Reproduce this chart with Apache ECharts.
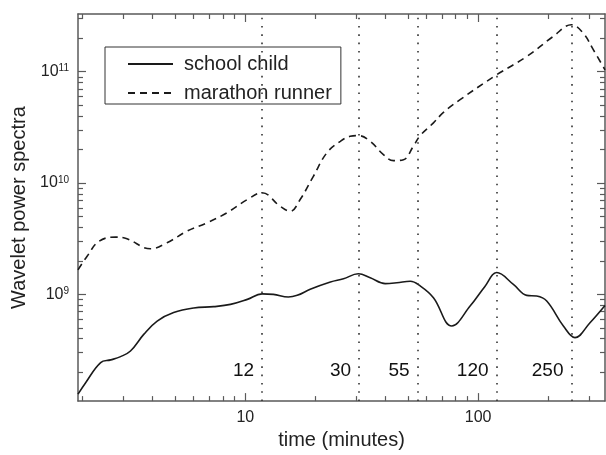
<!DOCTYPE html>
<html>
<head>
<meta charset="utf-8">
<script src="https://cdn.jsdelivr.net/npm/echarts@6/dist/echarts.min.js"></script>
<style>
html, body { margin: 0; padding: 0; background: #fff; }
#chart { width: 606px; height: 455px; }
</style>
</head>
<body>
<div id="chart"></div>
<script>
// school child (solid)
var childTime = [1.91, 2.06, 2.39, 2.64, 2.91, 3.21, 3.66, 4.18, 4.92, 6.0, 7.31, 8.63, 10.2, 11.8, 13.2, 15.3, 16.7, 19.0, 23.2, 26.4, 30.6, 34.4, 39.9, 44.8, 51.1, 56.4, 64.3, 77.1, 92.4, 107, 120.3, 141.8, 161.9, 178.6, 197.2, 232.5, 260.8, 302.6, 351];
var childPower = [1.27e8, 1.61e8, 2.44e8, 2.58e8, 2.76e8, 3.10e8, 4.37e8, 5.76e8, 6.86e8, 7.54e8, 7.76e8, 8.13e8, 9.02e8, 1.01e9, 1.0e9, 9.46e8, 9.8e8, 1.11e9, 1.29e9, 1.38e9, 1.53e9, 1.41e9, 1.25e9, 1.27e9, 1.31e9, 1.19e9, 9.33e8, 5.2e8, 7.85e8, 1.18e9, 1.57e9, 1.23e9, 9.8e8, 9.66e8, 8.71e8, 5.2e8, 4.09e8, 5.57e8, 7.96e8];

// marathon runner (dashed)
var runnerTime = [1.91, 2.09, 2.35, 2.77, 3.10, 3.91, 4.61, 5.62, 6.85, 8.34, 10.2, 11.8, 14.1, 15.6, 17.2, 19.6, 22.4, 25.6, 28.2, 30.6, 34.4, 39.2, 43.3, 47.8, 52.7, 56.4, 64.3, 71.0, 83.7, 120.3, 161.9, 210, 252, 283, 313, 351];
var runnerPower = [1.66e9, 2.2e9, 3.0e9, 3.27e9, 3.16e9, 2.57e9, 2.91e9, 3.70e9, 4.40e9, 5.41e9, 7.11e9, 8.17e9, 6.2e9, 5.58e9, 7.11e9, 1.15e10, 1.87e10, 2.37e10, 2.63e10, 2.67e10, 2.37e10, 1.80e10, 1.59e10, 1.62e10, 2.14e10, 2.67e10, 3.47e10, 4.31e10, 5.61e10, 9.4e10, 1.37e11, 2.07e11, 2.64e11, 2.22e11, 1.57e11, 1.04e11];

// dotted period markers
var markerTime = [11.8, 30.8, 55, 120, 252];
var markerText = ['12', '30', '55', '120', '250'];
var markerLabelLevel = 2.05e8;

var xRange = [1.91, 351];
var yRange = [1.1e8, 3.3e11];
var xMajor = [10, 100];
var xMinor = [2, 3, 4, 5, 6, 7, 8, 9, 20, 30, 40, 50, 60, 70, 80, 90, 200, 300];
var yMajor = [1e9, 1e10, 1e11];
var yMinor = [2e8, 3e8, 4e8, 5e8, 6e8, 7e8, 8e8, 9e8, 2e9, 3e9, 4e9, 5e9, 6e9, 7e9, 8e9, 9e9,
	2e10, 3e10, 4e10, 5e10, 6e10, 7e10, 8e10, 9e10, 2e11, 3e11];

var font = 'Liberation Sans, Arial, sans-serif';
var ink = '#1a1a1a';
var frame = '#5a5a5a';

function pairs(xs, ys) {
	var out = [];
	for (var i = 0; i < xs.length; i++) out.push([xs[i], ys[i]]);
	return out;
}

function logAxis(position, range, ticks, len, frameLine) {
	return {
		type: 'log',
		position: position,
		min: range[0],
		max: range[1],
		axisLine: { show: frameLine, onZero: false, lineStyle: { color: frame, width: 1.5 } },
		axisTick: { show: true, inside: true, length: len, customValues: ticks, lineStyle: { color: frame, width: 1.2 } },
		axisLabel: { show: false },
		splitLine: { show: false }
	};
}

var chart = echarts.init(document.getElementById('chart'));

var xLab = logAxis('bottom', xRange, xMajor, 8, false);
xLab.axisLabel = {
	show: true, customValues: xMajor, margin: 8,
	fontFamily: font, fontSize: 16, color: '#222',
	formatter: function (v) { return String(Math.round(v)); }
};
xLab.name = 'time (minutes)';
xLab.nameLocation = 'middle';
xLab.nameGap = 26;
xLab.nameTextStyle = { fontFamily: font, fontSize: 20, color: '#222' };

var yLab = logAxis('left', yRange, yMajor, 8, false);
yLab.axisLabel = {
	show: true, customValues: yMajor, margin: 9,
	formatter: function (v) {
		return '{b|10}{s|' + Math.round(Math.log10(v)) + '}';
	},
	rich: {
		b: { fontFamily: font, fontSize: 16, color: '#222' },
		s: { fontFamily: font, fontSize: 10, color: '#222', verticalAlign: 'top' }
	}
};
yLab.name = 'Wavelet power spectra';
yLab.nameLocation = 'middle';
yLab.nameGap = 48;
yLab.nameTextStyle = { fontFamily: font, fontSize: 20, color: '#222' };

var option = {
	animation: false,
	backgroundColor: '#fff',
	grid: { left: 78, right: 1, top: 14, bottom: 53 },
	legend: {
		orient: 'vertical',
		left: 105,
		top: 47,
		padding: [7, 9, 1, 22],
		itemGap: 9,
		itemWidth: 45,
		itemHeight: 14,
		backgroundColor: '#fff',
		borderColor: '#333',
		borderWidth: 1,
		itemStyle: { opacity: 0 },
		textStyle: { fontFamily: font, fontSize: 20, color: '#222', padding: [0, 0, 0, 6] },
		data: ['school child', 'marathon runner']
	},
	xAxis: [
		logAxis('bottom', xRange, xMinor, 5, true),
		xLab,
		logAxis('top', xRange, xMinor, 5, true),
		logAxis('top', xRange, xMajor, 8, false)
	],
	yAxis: [
		logAxis('left', yRange, yMinor, 5, true),
		yLab,
		logAxis('right', yRange, yMinor, 5, true),
		logAxis('right', yRange, yMajor, 8, false)
	],
	series: [
		{
			name: 'school child',
			type: 'line',
			data: pairs(childTime, childPower),
			symbol: 'none',
			smooth: 0.4,
			lineStyle: { color: ink, width: 1.6 },
			itemStyle: { color: ink },
			markLine: {
				silent: true,
				symbol: ['none', 'none'],
				label: { show: false },
				lineStyle: { color: '#333', width: 1.6, type: [1.6, 6.7] },
				data: markerTime.map(function (t) { return { xAxis: t }; })
			}
		},
		{
			name: 'marathon runner',
			type: 'line',
			data: pairs(runnerTime, runnerPower),
			symbol: 'none',
			smooth: 0.4,
			lineStyle: { color: ink, width: 1.6, type: [7, 5] },
			itemStyle: { color: ink }
		},
		{
			type: 'scatter',
			silent: true,
			symbolSize: 0,
			data: markerTime.map(function (t) { return [t, markerLabelLevel]; }),
			label: {
				show: true,
				position: 'left',
				distance: 8,
				fontFamily: font,
				fontSize: 19,
				color: '#111',
				opacity: 1,
				formatter: function (p) { return markerText[p.dataIndex]; }
			}
		}
	]
};

chart.setOption(option);
</script>
</body>
</html>
